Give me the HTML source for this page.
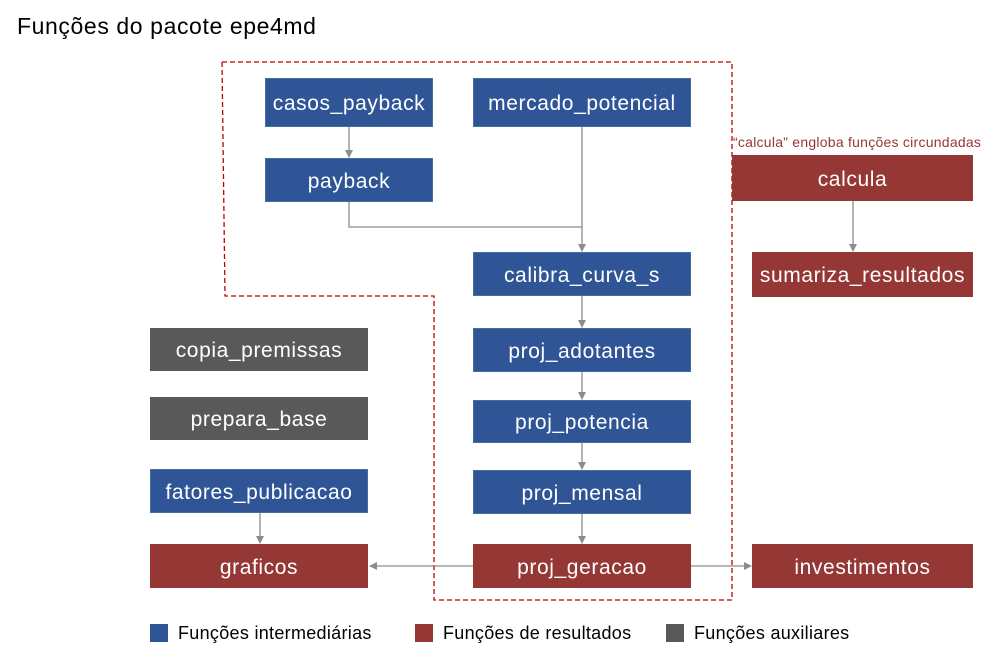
<!DOCTYPE html>
<html><head><meta charset="utf-8"><style>
body{margin:0;width:995px;height:660px;background:#fff;position:relative;overflow:hidden;font-family:"Liberation Sans",sans-serif}
.b{position:absolute;color:#fff;display:flex;align-items:center;justify-content:center;font-size:21px;letter-spacing:0.6px;padding-top:3px;box-sizing:border-box}
.bl{background:#2F5597;border:1px solid #41719C}
.r{background:#953735}
.g{background:#595959}
.t{position:absolute;white-space:nowrap}
.lg{font-size:18px;letter-spacing:0.3px}
</style></head><body>
<div class="t" style="left:17px;top:13px;font-size:23px;letter-spacing:0.6px;color:#000">Funções do pacote epe4md</div>
<svg style="position:absolute;left:0;top:0" width="995" height="660">
<defs><marker id="a" markerWidth="8" markerHeight="8" refX="7" refY="4" orient="auto" markerUnits="userSpaceOnUse"><path d="M0,0 L8,4 L0,8 z" fill="#8c8c8c"/></marker></defs>
<polygon points="222,62 732,62 732,600 434,600 434,296 225,296" fill="none" stroke="#C00000" stroke-width="1.3" stroke-dasharray="5,3"/>
<g stroke="#8c8c8c" stroke-width="1.3" fill="none">
<line x1="349" y1="127" x2="349" y2="157" marker-end="url(#a)"/>
<polyline points="349,202 349,227 582,227"/>
<line x1="582" y1="127" x2="582" y2="251" marker-end="url(#a)"/>
<line x1="582" y1="296" x2="582" y2="327" marker-end="url(#a)"/>
<line x1="582" y1="372" x2="582" y2="399" marker-end="url(#a)"/>
<line x1="582" y1="443" x2="582" y2="469" marker-end="url(#a)"/>
<line x1="582" y1="514" x2="582" y2="543" marker-end="url(#a)"/>
<line x1="260" y1="513" x2="260" y2="543" marker-end="url(#a)"/>
<line x1="853" y1="201" x2="853" y2="251" marker-end="url(#a)"/>
<line x1="473" y1="566" x2="370" y2="566" marker-end="url(#a)"/>
<line x1="691" y1="566" x2="751" y2="566" marker-end="url(#a)"/>
</g></svg>
<div class="b bl" style="left:265px;top:78px;width:168px;height:49px">casos_payback</div>
<div class="b bl" style="left:473px;top:78px;width:218px;height:49px">mercado_potencial</div>
<div class="b bl" style="left:265px;top:158px;width:168px;height:44px">payback</div>
<div class="b bl" style="left:473px;top:252px;width:218px;height:44px">calibra_curva_s</div>
<div class="b bl" style="left:473px;top:328px;width:218px;height:44px">proj_adotantes</div>
<div class="b bl" style="left:473px;top:400px;width:218px;height:43px">proj_potencia</div>
<div class="b bl" style="left:473px;top:470px;width:218px;height:44px">proj_mensal</div>
<div class="b r" style="left:473px;top:544px;width:218px;height:44px">proj_geracao</div>
<div class="b r" style="left:150px;top:544px;width:218px;height:44px">graficos</div>
<div class="b r" style="left:752px;top:544px;width:221px;height:44px">investimentos</div>
<div class="b r" style="left:732px;top:155px;width:241px;height:46px">calcula</div>
<div class="b r" style="left:752px;top:252px;width:221px;height:45px">sumariza_resultados</div>
<div class="b g" style="left:150px;top:328px;width:218px;height:43px">copia_premissas</div>
<div class="b g" style="left:150px;top:397px;width:218px;height:43px">prepara_base</div>
<div class="b bl" style="left:150px;top:469px;width:218px;height:44px">fatores_publicacao</div>
<div class="t" style="left:733px;top:134px;font-size:14px;letter-spacing:0.25px;color:#953735">“calcula” engloba funções circundadas</div>
<div style="position:absolute;left:150px;top:624px;width:18px;height:18px;background:#2F5597"></div>
<div class="t lg" style="left:178px;top:623px">Funções intermediárias</div>
<div style="position:absolute;left:415px;top:624px;width:18px;height:18px;background:#953735"></div>
<div class="t lg" style="left:443px;top:623px">Funções de resultados</div>
<div style="position:absolute;left:666px;top:624px;width:18px;height:18px;background:#595959"></div>
<div class="t lg" style="left:694px;top:623px">Funções auxiliares</div>
</body></html>
